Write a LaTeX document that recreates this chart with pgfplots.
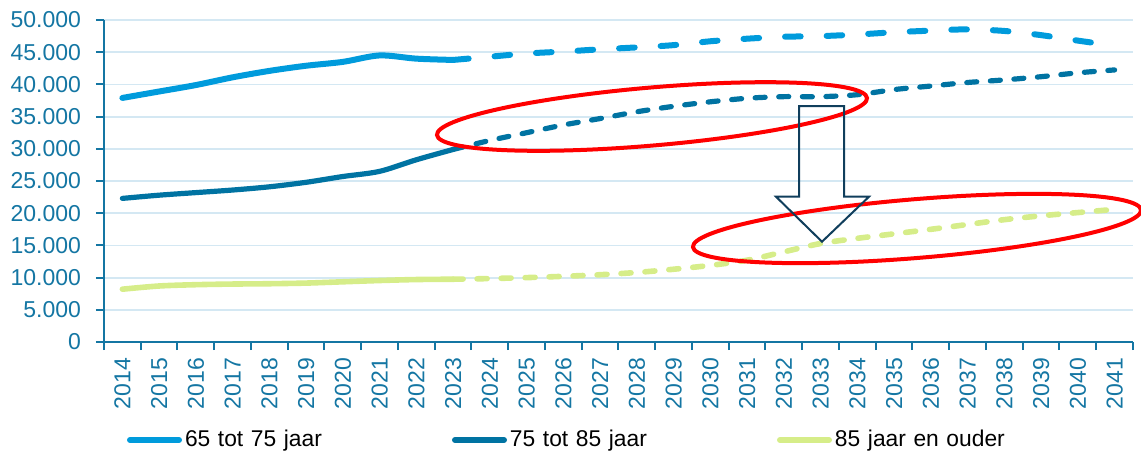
\documentclass[border=0pt]{standalone}
\usepackage{fontspec}
\setmainfont{Liberation Sans}
\usepackage{pgfplots}
\usepackage{pgfplotstable}
\pgfplotsset{compat=1.18}

\definecolor{axcol}{RGB}{20,118,163}
\definecolor{gridcol}{RGB}{212,232,243}
\definecolor{lblue}{RGB}{0,155,220}
\definecolor{dblue}{RGB}{0,115,162}
\definecolor{lgreen}{RGB}{214,237,137}
\definecolor{navy}{RGB}{16,62,92}

% Aantal personen per leeftijdsgroep (t/m 2023 realisatie, daarna prognose)
\pgfplotstableread{
year a     b     c
2014 37900 22300 8200
2015 38900 22800 8700
2016 39900 23200 8900
2017 41100 23600 9000
2018 42100 24100 9050
2019 42900 24800 9150
2020 43500 25700 9350
2021 44500 26500 9550
2022 44000 28300 9700
2023 43800 29900 9750
2024 44300 31300 9850
2025 44800 32500 10000
2026 45100 33700 10200
2027 45450 34700 10450
2028 45750 35750 10800
2029 46100 36600 11300
2030 46700 37300 11900
2031 47100 37850 12700
2032 47400 38100 14000
2033 47500 38100 15300
2034 47750 38400 16100
2035 48100 39200 16800
2036 48350 39750 17500
2037 48550 40300 18250
2038 48300 40700 19000
2039 47650 41200 19600
2040 46800 41800 20100
2041 46000 42250 20600
}\popdata

\begin{document}
\begin{tikzpicture}
\begin{axis}[
  at={(0pt,0pt)}, anchor=south west,
  scale only axis, width=514.5pt, height=161pt,
  xmin=2013.5, xmax=2041.5, ymin=0, ymax=50000,
  axis x line*=bottom, axis y line*=left,
  axis line style={draw=axcol, line width=1pt},
  tick align=outside, major tick length=4pt,
  tick style={draw=axcol, line width=1pt},
  ytick={0,5000,...,50000},
  ymajorgrids, grid style={draw=gridcol, line width=0.9pt},
  xtick={2013.5,2014.5,...,2041.5}, xticklabels={},
  extra x ticks={2014,2015,...,2041},
  extra x tick labels={2014,2015,2016,2017,2018,2019,2020,2021,2022,2023,2024,2025,2026,2027,2028,2029,2030,2031,2032,2033,2034,2035,2036,2037,2038,2039,2040,2041},
  extra x tick style={major tick length=0pt, grid=none},
  scaled y ticks=false,
  /pgf/number format/assume math mode=true,
  ticklabel style={font=\fontsize{11.5}{13}\selectfont, text=axcol},
  yticklabel style={/pgf/number format/1000 sep={.}, xshift=-4pt},
  xticklabel style={yshift=-4.5pt, rotate=90, anchor=east},
  clip=false,
  legend columns=3,
  legend cell align=left,
  legend style={at={(axis description cs:0.02235,-0.3043)}, anchor=west,
    draw=none, fill=none, inner sep=0pt, outer sep=0pt, column sep=0pt,
    font=\fontsize{11.4}{13}\selectfont, text=black,
    nodes={inner xsep=0pt, inner ysep=1pt, text width=133.5pt, align=left},
    /tikz/every odd column/.append style={column sep=1.5pt}},
  legend image code/.code={\draw[#1, solid, line width=3pt, line cap=round] (1.5pt,0pt) -- (26pt,0pt);},
]
% realisatie (doorgetrokken)
\addplot[lblue, line width=3pt, line cap=round, smooth, tension=0.5, restrict x to domain=2014:2023]
  table[x=year, y=a]{\popdata};
\addlegendentry{65 tot 75 jaar}
\addplot[dblue, line width=2.6pt, line cap=round, smooth, tension=0.5, restrict x to domain=2014:2023]
  table[x=year, y=b]{\popdata};
\addlegendentry{75 tot 85 jaar}
\addplot[lgreen, line width=2.8pt, line cap=round, smooth, tension=0.5, restrict x to domain=2014:2023]
  table[x=year, y=c]{\popdata};
\addlegendentry{85 jaar en ouder}
% prognose (gestreept)
\addplot[forget plot, lblue, line width=3pt, line cap=round, smooth, tension=0.5,
  dash pattern=on 7.8pt off 13pt, restrict x to domain=2023:2041]
  table[x=year, y=a]{\popdata};
\addplot[forget plot, dblue, line width=2.6pt, line cap=round, smooth, tension=0.5,
  dash pattern=on 5pt off 6.8pt, restrict x to domain=2023:2041]
  table[x=year, y=b]{\popdata};
\addplot[forget plot, lgreen, line width=2.8pt, line cap=round, smooth, tension=0.5,
  dash pattern=on 5pt off 7pt, restrict x to domain=2023:2041]
  table[x=year, y=c]{\popdata};
\end{axis}
% markeringen
\draw[red, line width=2pt, rotate around={4.92:(274pt,112.75pt)}]
  (274pt,112.75pt) ellipse [x radius=107.9pt, y radius=14.5pt];
\draw[red, line width=2pt, rotate around={4.72:(406.5pt,56.75pt)}]
  (406.5pt,56.75pt) ellipse [x radius=112.4pt, y radius=14.7pt];
\draw[navy, line width=1pt, line join=miter]
  (347.5pt,118pt) -- (347.5pt,72.65pt) -- (336pt,72.65pt) -- (359pt,50.15pt)
  -- (382.5pt,72.65pt) -- (370pt,72.65pt) -- (370pt,118pt) -- cycle;
\pgfresetboundingbox
\path[use as bounding box] (-52pt,-55pt) rectangle (518.5pt,171pt);
\end{tikzpicture}
\end{document}
